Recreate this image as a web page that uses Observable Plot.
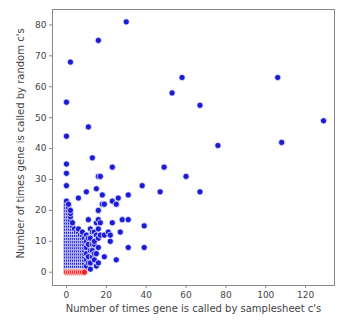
<!DOCTYPE html>
<html>
<head>
<meta charset="utf-8">
<script src="https://cdn.jsdelivr.net/npm/d3@7"></script>
<script src="https://cdn.jsdelivr.net/npm/@observablehq/plot@0.6"></script>
<style>
  html, body { margin: 0; padding: 0; background: #fff; }
  #chart svg { display: block; }
</style>
</head>
<body>
<div id="chart"></div>
<script>
// x value (samplesheet calls) -> list of y values (random calls), blue points
const blueColumnX = [0, 1, 2, 3, 4, 5, 6, 7, 8, 9, 10, 11, 12, 13, 14, 15, 16, 17, 18, 19, 21, 22, 23, 25, 26, 27, 28, 30, 31, 38, 39, 47, 49, 53, 58, 60, 67, 76, 106, 108, 129];
const blueColumnY = [
  [1,2,3,4,5,6,7,8,9,10,11,12,13,14,15,16,17,18,19,20,21,22,23,28,32,35,44,55],
  [1,2,3,4,5,6,7,8,9,10,11,12,13,14,15,16,17,18,19,20,21,22],
  [1,2,3,4,5,6,7,8,9,10,11,12,13,14,15,16,17,18,19,20,68],
  [1,2,3,4,5,6,7,8,9,10,11,12,13,14,15,16],
  [1,2,3,4,5,6,7,8,9,10,11,12,13,14],
  [1,2,3,4,5,6,7,8,9,10,11,12,13],
  [1,2,3,4,5,6,7,8,9,10,11,12,13,14,24],
  [1,2,3,4,5,6,7,8,9,10,11,12],
  [1,2,3,4,5,6,7,8,9,10,11,12,13],
  [1,2,3,4,5,6,7,8,9,10,11],
  [2,4,6,8,10,12,26],
  [3,5,9,11,17,47],
  [1,3,7,11,14],
  [5,7,9,13,37],
  [4,6,9,10,13],
  [2,6,12,16,27],
  [3,8,11,14,17,20,31,75],
  [12,16,31],
  [22,25],
  [5,12,22],
  [13],
  [10,12],
  [16,23,34],
  [4,22],
  [24],
  [13],
  [17],
  [81],
  [8,17,25],
  [28],
  [8,15],
  [26],
  [34],
  [58],
  [63],
  [31],
  [26,54],
  [41],
  [63],
  [42],
  [49]
];
// red points: genes never called by random c's
const redX = [0, 1, 2, 3, 4, 5, 6, 7, 8, 9];
const redY = [0, 0, 0, 0, 0, 0, 0, 0, 0, 0];

const xTicks = [0, 20, 40, 60, 80, 100, 120];
const yTicks = [0, 10, 20, 30, 40, 50, 60, 70, 80];
const xLabel = "Number of times gene is called by samplesheet c's";
const yLabel = "Number of times gene is called by random c's";

const blue = blueColumnX.flatMap((x, i) => blueColumnY[i].map(y => ({x, y})));
const red = redX.map((x, i) => ({x, y: redY[i]}));

const chart = Plot.plot({
  width: 337,
  height: 321,
  marginLeft: 52,
  marginRight: 3,
  marginTop: 9,
  marginBottom: 36,
  style: {fontFamily: "DejaVu Sans", fontSize: "9px", color: "#444", background: "#fff"},
  x: {domain: [-7, 134.5]},
  y: {domain: [-4.3, 85]},
  marks: [
    Plot.dot(blue, {x: "x", y: "y", r: 3.1, fill: "#1c1cd4", stroke: "#fff", strokeWidth: 0.7}),
    Plot.dot(red, {x: "x", y: "y", r: 3.1, fill: "#f02020", stroke: "#fff", strokeWidth: 0.7}),
    Plot.frame({stroke: "#888"}),
    Plot.axisX({ticks: xTicks, tickSize: 3, tickPadding: 3, stroke: "#888", label: null}),
    Plot.axisY({ticks: yTicks, tickSize: 3, tickPadding: 3, stroke: "#888", label: null}),
    Plot.text([xLabel], {frameAnchor: "bottom", dy: 26, fontSize: 10, fill: "#444"}),
    Plot.text([yLabel], {frameAnchor: "left", textAnchor: "middle", rotate: -90, dx: -32, dy: -4, fontSize: 10, fill: "#444"})
  ]
});
document.getElementById("chart").appendChild(chart);
</script>
</body>
</html>
